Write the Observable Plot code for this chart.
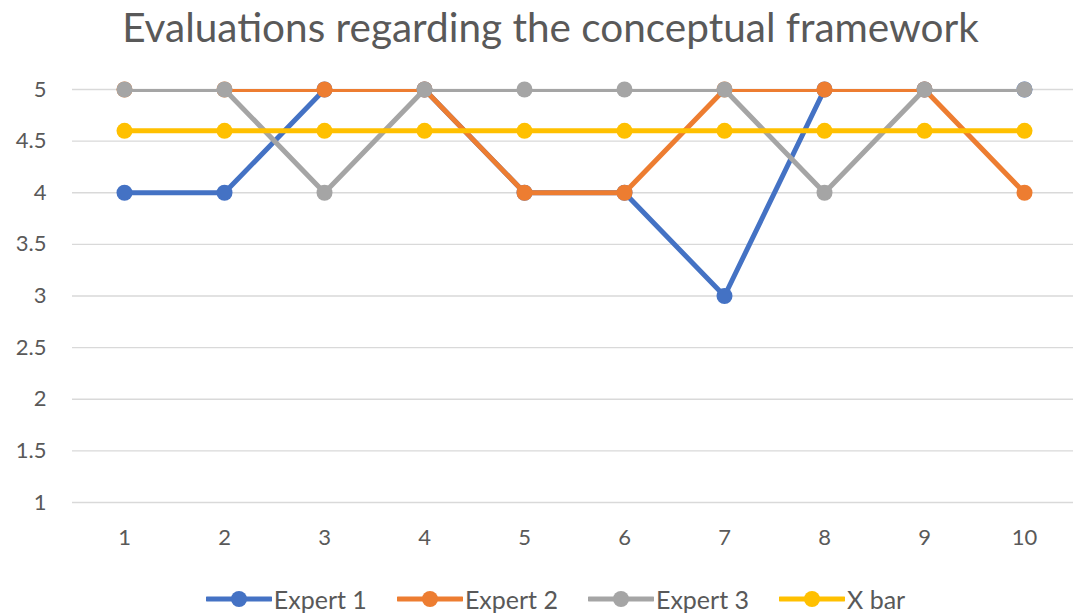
<!DOCTYPE html>
<html>
<head>
<meta charset="utf-8">
<script src="https://cdn.jsdelivr.net/npm/d3@7"></script>
<script src="https://cdn.jsdelivr.net/npm/@observablehq/plot@0.6"></script>
<style>
  html, body { margin: 0; padding: 0; background: #fff; }
  body { width: 1073px; height: 616px; overflow: hidden; font-family: Lato, "Open Sans", sans-serif; color: #595959; }
  #title { height: 62px; line-height: 54px; text-align: center; font-size: 40.5px; padding-left: 28px; box-sizing: border-box; white-space: nowrap; }
  #legend { height: 54px; display: flex; justify-content: center; align-items: center; padding-left: 38px; padding-top: 20px; box-sizing: border-box; font-size: 25px; }
  .item { display: flex; align-items: center; margin: 0 15px; }
  .item svg { margin-right: 2px; }
  #chart svg text { font-size: 22px; }
</style>
</head>
<body>
<div id="title">Evaluations regarding the conceptual framework</div>
<div id="chart"></div>
<div id="legend"></div>
<script>
const categories = ["1", "2", "3", "4", "5", "6", "7", "8", "9", "10"];
const expert1 = [4, 4, 5, 5, 4, 4, 3, 5, 5, 5];
const expert2 = [5, 5, 5, 5, 4, 4, 5, 5, 5, 4];
const expert3 = [5, 5, 4, 5, 5, 5, 5, 4, 5, 5];
const xBar = [4.6, 4.6, 4.6, 4.6, 4.6, 4.6, 4.6, 4.6, 4.6, 4.6];
const seriesNames = ["Expert 1", "Expert 2", "Expert 3", "X bar"];
const seriesValues = [expert1, expert2, expert3, xBar];
const seriesColors = ["#4472C4", "#ED7D31", "#A5A5A5", "#FFC000"];
const yTicks = [1, 1.5, 2, 2.5, 3, 3.5, 4, 4.5, 5];

const seriesRows = seriesNames.map((name, s) =>
  categories.map((c, i) => ({series: name, cat: c, value: seriesValues[s][i]}))
);

const seriesMarks = seriesRows.flatMap((rows, s) => [
  Plot.line(rows, {x: "cat", y: "value", stroke: seriesColors[s], strokeWidth: 5, clip: true}),
  Plot.dot(rows, {x: "cat", y: "value", fill: seriesColors[s], r: 8})
]);

const chart = Plot.plot({
  width: 1073,
  height: 500,
  marginLeft: 72,
  marginRight: 0,
  marginTop: 27,
  marginBottom: 60,
  style: {fontFamily: "Lato, 'Open Sans', sans-serif", fontSize: "22px", color: "#595959", background: "transparent"},
  x: {type: "point", domain: categories, padding: 0.5, range: [72, 1076]},
  y: {domain: [1, 5]},
  marks: [
    Plot.gridY(yTicks, {stroke: "#d9d9d9", strokeOpacity: 1, strokeWidth: 1.3}),
    Plot.axisY(yTicks, {tickSize: 0, tickPadding: 26, label: null, fontSize: 22, tickFormat: d => String(d)}),
    Plot.axisX({tickSize: 0, tickPadding: 27, label: null, fontSize: 22}),
    ...seriesMarks
  ]
});
document.getElementById("chart").appendChild(chart);

const legend = document.getElementById("legend");
seriesNames.forEach((name, s) => {
  const item = document.createElement("div");
  item.className = "item";
  item.innerHTML = `<svg width="66" height="20"><line x1="1" x2="65" y1="10" y2="10" stroke="${seriesColors[s]}" stroke-width="5" stroke-linecap="round"/><circle cx="33" cy="10" r="8" fill="${seriesColors[s]}"/></svg><span>${name}</span>`;
  legend.appendChild(item);
});
</script>
</body>
</html>
